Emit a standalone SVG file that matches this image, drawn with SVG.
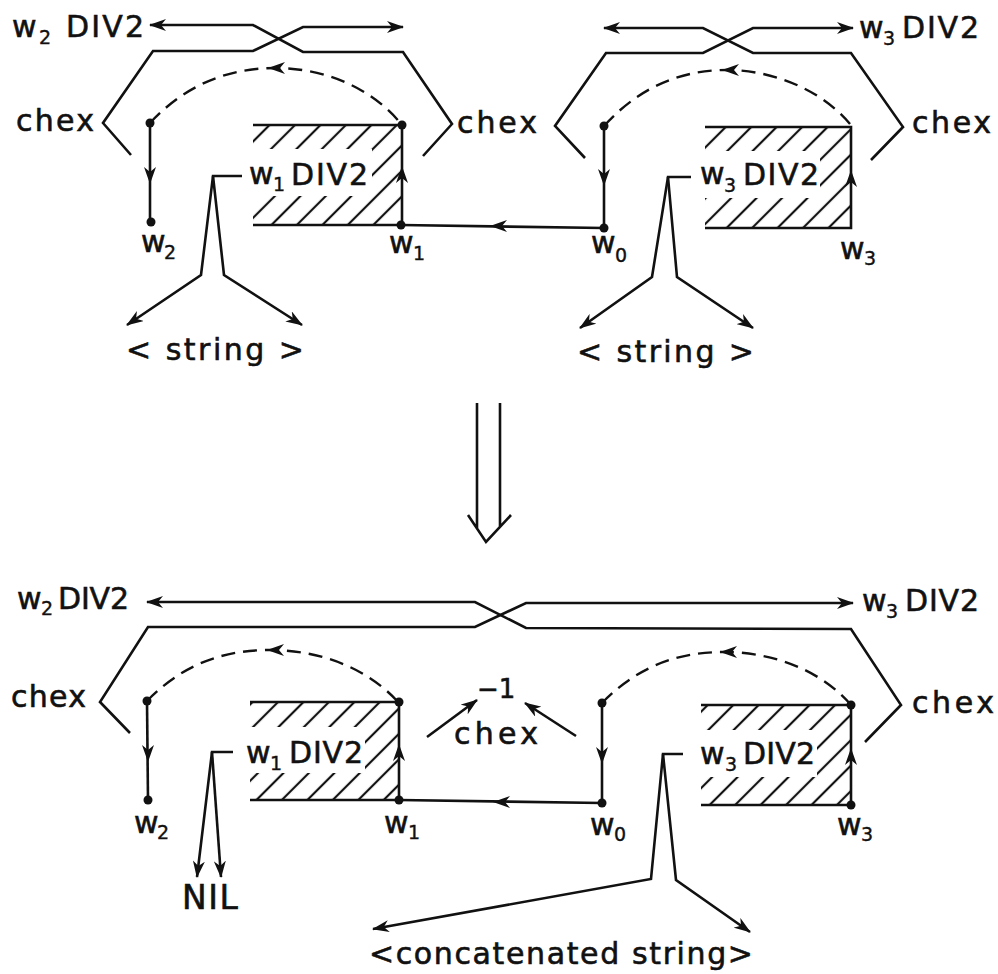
<svg xmlns="http://www.w3.org/2000/svg" xmlns:xlink="http://www.w3.org/1999/xlink" width="998" height="974" viewBox="0 0 998 974">
<style>
  .ln{fill:none;stroke:#111;stroke-width:2.6;stroke-linejoin:miter;stroke-linecap:butt}
  .dash{fill:none;stroke:#111;stroke-width:2.4;stroke-dasharray:14 8}
  .t{font-family:"DejaVu Sans","Liberation Sans",sans-serif;font-size:30px;fill:#111;stroke:#111;stroke-width:0.6}
  .s{font-family:"DejaVu Sans","Liberation Sans",sans-serif;font-size:19px;fill:#111;stroke:#111;stroke-width:0.4}
  .big{font-size:33px}
  .dot{fill:#111}
  .ko{fill:#fff}
  .ah{fill:#111}
</style>
<defs>
  <marker id="arr" viewBox="0 0 17 12" refX="16" refY="6" markerWidth="17" markerHeight="12" markerUnits="userSpaceOnUse" orient="auto">
    <path d="M0,0 L17,6 L0,12 L5,6 Z" fill="#111"/>
  </marker>
  <path id="ah" class="ah" d="M0,0 L-17,-6 L-12,0 L-17,6 Z"/>
  <pattern id="hatch" width="18" height="18" patternUnits="userSpaceOnUse" patternTransform="rotate(45)">
    <line x1="9" y1="0" x2="9" y2="18" stroke="#111" stroke-width="2.2"/>
  </pattern>
</defs>
<rect width="998" height="974" fill="#fff"/>

<!-- hatched rectangles -->
<g id="rect-top-w1">
  <rect x="253" y="125" width="149" height="100" fill="url(#hatch)"/>
  <rect class="ko" x="245" y="149" width="127" height="47"/>
  <path class="ln" d="M253,125 H402 V225 H253"/>
</g>
<g id="rect-top-w3">
  <rect x="705" y="127" width="146" height="101" fill="url(#hatch)"/>
  <rect class="ko" x="698" y="151" width="122" height="47"/>
  <path class="ln" d="M705,127 H851 V228 H705"/>
</g>
<g id="rect-bot-w1">
  <rect x="250" y="702" width="149" height="98" fill="url(#hatch)"/>
  <rect class="ko" x="243" y="727" width="122" height="46"/>
  <path class="ln" d="M250,702 H399 V800 H250"/>
</g>
<g id="rect-bot-w3">
  <rect x="701" y="705" width="150" height="100" fill="url(#hatch)"/>
  <rect class="ko" x="695" y="730" width="122" height="47"/>
  <path class="ln" d="M701,705 H851 V805 H701"/>
</g>

<g id="connectors">
  <!-- top: crossing chex brackets -->
  <path class="ln" d="M423,156 L452,124 L403,52 L303,52 L253,25 L150,25" marker-end="url(#arr)"/>
  <path class="ln" d="M131,155 L103,123 L153,51 L253,51 L303,27 L403,27" marker-end="url(#arr)"/>
  <path class="ln" d="M585,158 L555,126 L606,53 L703,53 L753,28 L853,28" marker-end="url(#arr)"/>
  <path class="ln" d="M871,160 L903,127 L851,53 L753,53 L703,28 L604,28" marker-end="url(#arr)"/>
  <!-- top: dashed arcs -->
  <path class="dash" d="M150,123 C190,80 235,68 276,68 C320,68 370,85 402,125"/>
  <path class="dash" d="M604,126 C644,82 688,70 727,70 C770,70 820,88 850,124"/>
  <!-- top: verticals and horizontal -->
  <path class="ln" d="M150,123 V222"/>
  <path class="ln" d="M604,126 V228"/>
  <path class="ln" d="M604,228 L401,225"/>
  <!-- top: string connectors -->
  <path class="ln" d="M242,176 H213 L201,275 L127,325" marker-end="url(#arr)"/>
  <path class="ln" d="M213,176 L224,275 L302,325" marker-end="url(#arr)"/>
  <path class="ln" d="M691,177 H668 L652,277 L580,328" marker-end="url(#arr)"/>
  <path class="ln" d="M668,177 L677,277 L753,328" marker-end="url(#arr)"/>
  <!-- transition arrow -->
  <path class="ln" d="M477,403 V529 M500,403 V527 M468,515 L486,542 L511,515"/>
  <!-- bottom: long brackets -->
  <path class="ln" d="M865,742 L901,705 L851,629 L526,628 L475,602 L147,602" marker-end="url(#arr)"/>
  <path class="ln" d="M130,733 L100,702 L148,627 L475,627 L526,603 L853,603" marker-end="url(#arr)"/>
  <!-- bottom: dashed arcs -->
  <path class="dash" d="M147,701 C187,660 230,650 270,650 C315,650 365,665 399,703"/>
  <path class="dash" d="M602,703 C642,662 685,652 724,652 C768,652 818,667 851,705"/>
  <!-- bottom: verticals and horizontal -->
  <path class="ln" d="M147,701 L148,800"/>
  <path class="ln" d="M602,703 V803"/>
  <path class="ln" d="M602,803 L399,800"/>
  <!-- bottom: NIL -->
  <path class="ln" d="M233,752 H212 L197,877" marker-end="url(#arr)"/>
  <path class="ln" d="M212,752 L221,877" marker-end="url(#arr)"/>
  <!-- bottom: concatenated string -->
  <path class="ln" d="M683,754 H663 L651,879 L373,929" marker-end="url(#arr)"/>
  <path class="ln" d="M663,754 L676,880 L750,932" marker-end="url(#arr)"/>
  <!-- bottom: -1 chex -->
  <path class="ln" d="M427,737 L477,700" marker-end="url(#arr)"/>
  <path class="ln" d="M576,736 L525,703" marker-end="url(#arr)"/>
  <!-- mid-line arrowheads -->
  <use xlink:href="#ah" transform="translate(268,68) rotate(180)"/>
  <use xlink:href="#ah" transform="translate(722,70) rotate(180)"/>
  <use xlink:href="#ah" transform="translate(150,184) rotate(90)"/>
  <use xlink:href="#ah" transform="translate(604,186) rotate(90)"/>
  <use xlink:href="#ah" transform="translate(402,166) rotate(-90)"/>
  <use xlink:href="#ah" transform="translate(851,170) rotate(-90)"/>
  <use xlink:href="#ah" transform="translate(490,226) rotate(180)"/>
  <use xlink:href="#ah" transform="translate(267,650) rotate(180)"/>
  <use xlink:href="#ah" transform="translate(720,652) rotate(180)"/>
  <use xlink:href="#ah" transform="translate(148,762) rotate(90)"/>
  <use xlink:href="#ah" transform="translate(602,764) rotate(90)"/>
  <use xlink:href="#ah" transform="translate(399,744) rotate(-90)"/>
  <use xlink:href="#ah" transform="translate(851,748) rotate(-90)"/>
  <use xlink:href="#ah" transform="translate(493,802) rotate(180)"/>
</g>

<!-- top nodes -->
<g id="node-top-w2"><circle class="dot" cx="150" cy="123" r="4.5"/><circle class="dot" cx="151" cy="222" r="4.5"/>
  <text class="t" x="141" y="252">w</text><text class="s" x="164" y="259">2</text></g>
<g id="node-top-w1"><circle class="dot" cx="402" cy="125" r="4.5"/><circle class="dot" cx="401" cy="225" r="4.5"/>
  <text class="t" x="389" y="253">w</text><text class="s" x="413" y="260">1</text></g>
<g id="node-top-w0"><circle class="dot" cx="604" cy="126" r="4.5"/><circle class="dot" cx="604" cy="228" r="4.5"/>
  <text class="t" x="591" y="253">w</text><text class="s" x="615" y="262">0</text></g>
<g id="node-top-w3"><text class="t" x="840" y="259">w</text><text class="s" x="864" y="265">3</text></g>

<g id="label-top-w2div2"><text class="t" x="12" y="37">w</text><text class="s" x="39" y="44">2</text><text class="t" x="66" y="37" textLength="78" lengthAdjust="spacing">DIV2</text></g>
<g id="label-top-w3div2"><text class="t" x="859" y="38">w</text><text class="s" x="883" y="45">3</text><text class="t" x="902" y="38" textLength="77" lengthAdjust="spacing">DIV2</text></g>
<g id="label-top-chex-l"><text class="t" x="16" y="131" textLength="78" lengthAdjust="spacing">chex</text></g>
<g id="label-top-chex-m"><text class="t" x="457" y="133" textLength="80" lengthAdjust="spacing">chex</text></g>
<g id="label-top-chex-r"><text class="t" x="912" y="133" textLength="79" lengthAdjust="spacing">chex</text></g>
<g id="label-top-w1div2"><text class="t" x="249" y="184">w</text><text class="s" x="273" y="191">1</text><text class="t" x="291" y="185" textLength="77" lengthAdjust="spacing">DIV2</text></g>
<g id="label-top-w3div2-in"><text class="t" x="700" y="184">w</text><text class="s" x="724" y="192">3</text><text class="t" x="743" y="185" textLength="76" lengthAdjust="spacing">DIV2</text></g>
<g id="label-top-string-l"><text class="t" x="126" y="360" textLength="178" lengthAdjust="spacing">&lt; string &gt;</text></g>
<g id="label-top-string-r"><text class="t" x="577" y="362" textLength="177" lengthAdjust="spacing">&lt; string &gt;</text></g>

<!-- bottom nodes -->
<g id="node-bot-w2"><circle class="dot" cx="147" cy="701" r="4.5"/><circle class="dot" cx="148" cy="800" r="4.5"/>
  <text class="t" x="134" y="833">w</text><text class="s" x="157" y="839">2</text></g>
<g id="node-bot-w1"><circle class="dot" cx="399" cy="702" r="4.5"/><circle class="dot" cx="399" cy="800" r="4.5"/>
  <text class="t" x="384" y="833">w</text><text class="s" x="408" y="839">1</text></g>
<g id="node-bot-w0"><circle class="dot" cx="602" cy="703" r="4.5"/><circle class="dot" cx="602" cy="803" r="4.5"/>
  <text class="t" x="590" y="835">w</text><text class="s" x="614" y="841">0</text></g>
<g id="node-bot-w3"><circle class="dot" cx="851" cy="705" r="4.5"/><circle class="dot" cx="851" cy="805" r="4.5"/>
  <text class="t" x="837" y="835">w</text><text class="s" x="861" y="841">3</text></g>

<g id="label-bot-w2div2"><text class="t" x="17" y="609">w</text><text class="s" x="41" y="615">2</text><text class="t" x="58" y="609" textLength="71" lengthAdjust="spacing">DIV2</text></g>
<g id="label-bot-w3div2"><text class="t" x="862" y="611">w</text><text class="s" x="886" y="618">3</text><text class="t" x="905" y="611" textLength="74" lengthAdjust="spacing">DIV2</text></g>
<g id="label-bot-chex-l"><text class="t" x="11" y="707" textLength="75" lengthAdjust="spacing">chex</text></g>
<g id="label-bot-chex-r"><text class="t" x="912" y="713" textLength="82" lengthAdjust="spacing">chex</text></g>
<g id="label-bot-minus1"><text class="t" x="477" y="698" style="font-size:26px">−1</text></g>
<g id="label-bot-chex-m"><text class="t" x="454" y="744" textLength="84" lengthAdjust="spacing">chex</text></g>
<g id="label-bot-w1div2"><text class="t" x="246" y="763">w</text><text class="s" x="270" y="770">1</text><text class="t" x="289" y="763" textLength="74" lengthAdjust="spacing">DIV2</text></g>
<g id="label-bot-w3div2-in"><text class="t" x="700" y="764">w</text><text class="s" x="725" y="771">3</text><text class="t" x="743" y="764" textLength="72" lengthAdjust="spacing">DIV2</text></g>
<g id="label-bot-nil"><text class="t big" x="182" y="909" textLength="56" lengthAdjust="spacing">NIL</text></g>
<g id="label-bot-concat"><text class="t" x="369" y="964" textLength="384" lengthAdjust="spacing">&lt;concatenated string&gt;</text></g>
</svg>
